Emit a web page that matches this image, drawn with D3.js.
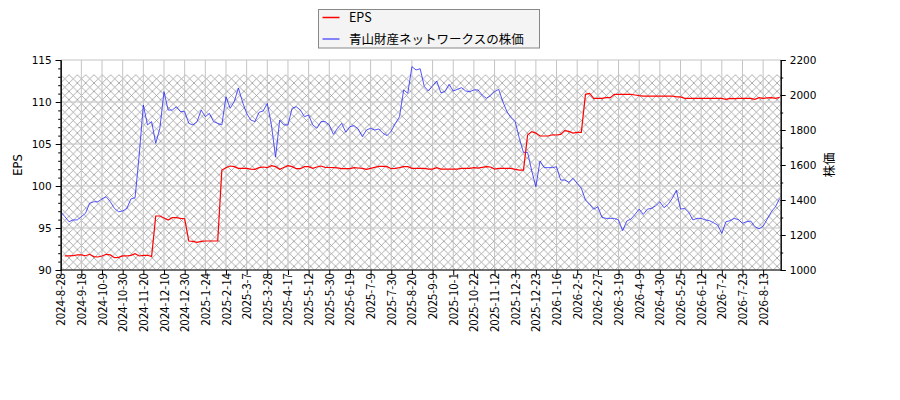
<!DOCTYPE html>
<html>
<head>
<meta charset="utf-8">
<script src="https://cdn.jsdelivr.net/npm/d3@7.9.0/dist/d3.min.js"></script>
<style>
  body { margin: 0; background: #fff; }
  svg { display: block; }
  .ytick text { font-family: "DejaVu Sans", sans-serif; font-size: 10.5px; fill: #000; }
  .xtick text { font-family: "Noto Sans CJK JP", "DejaVu Sans", sans-serif; font-size: 11.5px; fill: #000; }
</style>
</head>
<body>
<svg id="chart" width="900" height="400"></svg>
<script>
// x tick labels, one every 5 points
const tickLabels = [
  "2024-8-28", "2024-9-18", "2024-10-9", "2024-10-30", "2024-11-20", "2024-12-10", "2024-12-30",
  "2025-1-24", "2025-2-14", "2025-3-7", "2025-3-28", "2025-4-17", "2025-5-12", "2025-5-30",
  "2025-6-19", "2025-7-9", "2025-7-30", "2025-8-20", "2025-9-9", "2025-10-1", "2025-10-22",
  "2025-11-12", "2025-12-3", "2025-12-23", "2026-1-16", "2026-2-5", "2026-2-27", "2026-3-19",
  "2026-4-9", "2026-4-30", "2026-5-25", "2026-6-12", "2026-7-2", "2026-7-23", "2026-8-13"
];

// 株価 (right axis)
const price = [
  1333, 1305, 1276, 1286, 1286, 1305, 1324, 1381, 1390, 1390,
  1406, 1419, 1390, 1352, 1333, 1337, 1352, 1406, 1413, 1657,
  1943, 1829, 1848, 1724, 1810, 2019, 1914, 1914, 1933, 1905,
  1905, 1838, 1829, 1848, 1914, 1876, 1895, 1848, 1838, 1829,
  1990, 1924, 1962, 2040, 1960, 1895, 1857, 1848, 1901, 1909,
  1952, 1829, 1645, 1857, 1829, 1829, 1924, 1933, 1914, 1876,
  1886, 1829, 1810, 1848, 1848, 1829, 1775, 1810, 1838, 1787,
  1819, 1825, 1806, 1762, 1800, 1810, 1800, 1806, 1781, 1768,
  1794, 1838, 1876, 2029, 2010, 2162, 2143, 2150, 2048, 2023,
  2053, 2080, 2013, 2019, 2061, 2023, 2032, 2042, 2023, 2019,
  2029, 2029, 2000, 1981, 1996, 2019, 2032, 1962, 1905, 1870,
  1848, 1752, 1672, 1672, 1566, 1476, 1623, 1585, 1585, 1585,
  1590, 1514, 1514, 1501, 1524, 1495, 1467, 1400, 1375, 1347,
  1362, 1300, 1295, 1295, 1295, 1286, 1225, 1280, 1291, 1318,
  1348, 1318, 1348, 1352, 1367, 1390, 1356, 1375, 1409, 1455,
  1348, 1352, 1329, 1286, 1295, 1295, 1286, 1282, 1270, 1257,
  1209, 1276, 1282, 1295, 1288, 1267, 1276, 1280, 1248, 1235,
  1250, 1291, 1333, 1362, 1409
];

// EPS (left axis)
const eps = [
  null, 91.67, 91.67, 91.7, 91.79, 91.79, 91.7, 91.87, 91.6, 91.55,
  91.67, 91.87, 91.8, 91.47, 91.5, 91.67, 91.67, 91.75, 91.94, 91.67,
  91.75, 91.75, 91.6, 96.43, 96.43, 96.2, 95.95, 96.23, 96.23, 96.15,
  96.1, 93.45, 93.4, 93.29, 93.4, 93.45, 93.45, 93.45, 93.45, 101.9,
  102.18, 102.38, 102.3, 102.1, 102.1, 102.1, 102.02, 101.98, 102.18, 102.26,
  102.18, 102.42, 102.3, 101.98, 102.2, 102.42, 102.3, 102.06, 102.06, 102.3,
  102.3, 102.1, 102.26, 102.38, 102.22, 102.2, 102.18, 102.16, 102.06, 102.06,
  102.06, 102.18, 102.14, 102.1, 101.98, 102.1, 102.22, 102.34, 102.34, 102.3,
  102.06, 102.1, 102.18, 102.3, 102.3, 102.1, 102.1, 102.1, 102.1, 102.02,
  102.02, 102.18, 102.02, 102.02, 102.02, 102.02, 102.02, 102.1, 102.1, 102.1,
  102.18, 102.14, 102.22, 102.3, 102.26, 102.02, 102.1, 102.1, 102.1, 102.1,
  101.98, 101.9, 101.9, 106.07, 106.47, 106.3, 105.95, 105.95, 105.95, 106.1,
  106.07, 106.15, 106.59, 106.5, 106.3, 106.39, 106.39, 110.91, 111.03, 110.44,
  110.44, 110.44, 110.52, 110.52, 110.91, 110.91, 110.91, 110.91, 110.91, 110.83,
  110.75, 110.71, 110.71, 110.71, 110.71, 110.71, 110.71, 110.71, 110.71, 110.6,
  110.6, 110.44, 110.44, 110.44, 110.44, 110.44, 110.44, 110.44, 110.44, 110.44,
  110.44, 110.32, 110.44, 110.4, 110.44, 110.44, 110.44, 110.44, 110.32, 110.52,
  110.44, 110.5, 110.52, 110.44, 110.56
];

const epsTicks = [90, 95, 100, 105, 110, 115];
const priceTicks = [1000, 1200, 1400, 1600, 1800, 2000, 2200];
const hatchTop = 113.25; // top of the hatched band, in EPS units

const svg = d3.select("#chart");
const mLeft = 60.7, mRight = 780.7, mTop = 60, mBottom = 270;

const x = d3.scaleLinear().domain([0, price.length - 1]).range([mLeft, mLeft + (price.length - 1) * 20.66 / 5]);
const yEps = d3.scaleLinear().domain([90, 115]).range([mBottom, mTop]);
const yPrice = d3.scaleLinear().domain([1000, 2200]).range([mBottom, mTop]);

// hatch pattern
const p = 8.33;
const pat = svg.append("defs").append("pattern")
  .attr("id", "hatch")
  .attr("patternUnits", "userSpaceOnUse")
  .attr("width", p).attr("height", p)
  .attr("x", mLeft).attr("y", yEps(hatchTop));
pat.append("path")
  .attr("d", `M0,0L${p},${p}M${p},0L0,${p}M-1,1L1,-1M${p - 1},${p + 1}L${p + 1},${p - 1}M-1,${p - 1}L1,${p + 1}M${p - 1},-1L${p + 1},1`)
  .attr("stroke", "#8c8c8c")
  .attr("stroke-width", 0.7)
  .attr("fill", "none");

svg.append("rect")
  .attr("x", mLeft).attr("y", yEps(hatchTop))
  .attr("width", mRight - mLeft).attr("height", mBottom - yEps(hatchTop))
  .attr("fill", "url(#hatch)");

// grid
const tickIdx = tickLabels.map((_, i) => i * 5);
svg.append("g").selectAll("line").data(tickIdx).join("line")
  .attr("x1", d => x(d)).attr("x2", d => x(d))
  .attr("y1", mTop).attr("y2", mBottom)
  .attr("stroke", "#c4c4c4").attr("stroke-width", 1);
svg.append("g").selectAll("line").data(epsTicks).join("line")
  .attr("x1", mLeft).attr("x2", mRight)
  .attr("y1", d => yEps(d)).attr("y2", d => yEps(d))
  .attr("stroke", "#c4c4c4").attr("stroke-width", 1);

// lines
const epsLine = d3.line()
  .defined(d => d != null)
  .x((d, i) => x(i))
  .y(d => yEps(d));
const priceLine = d3.line()
  .x((d, i) => x(i))
  .y(d => yPrice(d));

svg.append("path")
  .datum(price)
  .attr("d", priceLine)
  .attr("fill", "none")
  .attr("stroke", "#2020ff")
  .attr("stroke-opacity", 0.85)
  .attr("stroke-width", 0.9);

svg.append("path")
  .datum(eps)
  .attr("d", epsLine)
  .attr("fill", "none")
  .attr("stroke", "#ff0000")
  .attr("stroke-width", 1.2);

// axes
const leftAxis = d3.axisLeft(yEps).tickValues(epsTicks).tickSize(5).tickPadding(4);
const leftMinor = d3.axisLeft(yEps).tickValues(d3.range(90, 116, 1)).tickSize(2.5).tickFormat("");
const rightAxis = d3.axisRight(yPrice).tickValues(priceTicks).tickSize(5).tickPadding(4).tickFormat(d3.format("d"));
const rightMinor = d3.axisRight(yPrice).tickValues(d3.range(1000, 2201, 100)).tickSize(2.5).tickFormat("");
const bottomAxis = d3.axisBottom(x).tickValues(tickIdx).tickSize(5).tickFormat((d, i) => tickLabels[i]);

function styleAxis(g) {
  g.select(".domain").attr("stroke", "#000").attr("stroke-width", 1);
  g.selectAll(".tick line").attr("stroke", "#000").attr("stroke-width", 1);
}

svg.append("g").attr("transform", `translate(${mLeft},0)`).call(leftMinor).call(styleAxis);
svg.append("g").attr("class", "ytick").attr("transform", `translate(${mLeft},0)`).call(leftAxis).call(styleAxis);
svg.append("g").attr("transform", `translate(${mRight},0)`).call(rightMinor).call(styleAxis);
svg.append("g").attr("class", "ytick").attr("transform", `translate(${mRight},0)`).call(rightAxis).call(styleAxis);

const xg = svg.append("g").attr("class", "xtick").attr("transform", `translate(0,${mBottom})`).call(bottomAxis).call(styleAxis);
xg.select(".domain").attr("d", `M${mLeft},0H${mRight}`);
xg.selectAll(".tick text")
  .attr("transform", "rotate(-90)")
  .attr("text-anchor", "end")
  .attr("x", -3)
  .attr("y", 0)
  .attr("dy", "0.35em");

// axis titles
svg.append("text")
  .attr("transform", `translate(22,${(mTop + mBottom) / 2}) rotate(-90)`)
  .attr("text-anchor", "middle")
  .attr("font-family", "DejaVu Sans, sans-serif")
  .attr("font-size", 11.5)
  .text("EPS");

svg.append("text")
  .attr("transform", `translate(834,${(mTop + mBottom) / 2}) rotate(-90)`)
  .attr("text-anchor", "middle")
  .attr("font-family", "Noto Sans CJK JP, sans-serif")
  .attr("font-size", 12.5)
  .text("株価");

// legend
const lg = svg.append("g");
lg.append("rect")
  .attr("x", 318.5).attr("y", 9.5).attr("width", 221).attr("height", 38.5)
  .attr("fill", "#f4f4f4").attr("stroke", "#888").attr("stroke-width", 1);
const legendItems = [
  { label: "EPS", color: "#ff0000", op: 1 },
  { label: "青山財産ネットワークスの株価", color: "#2020ff", op: 0.7 }
];
legendItems.forEach((d, i) => {
  const yy = 17.5 + i * 21.5;
  lg.append("line")
    .attr("x1", 322.5).attr("x2", 339.5).attr("y1", yy).attr("y2", yy)
    .attr("stroke", d.color).attr("stroke-opacity", d.op).attr("stroke-width", 1.5);
  lg.append("text")
    .attr("x", 349).attr("y", yy).attr("dy", "0.36em")
    .attr("font-family", "Noto Sans CJK JP, sans-serif")
    .attr("font-size", 12.5)
    .text(d.label);
});
</script>
</body>
</html>
